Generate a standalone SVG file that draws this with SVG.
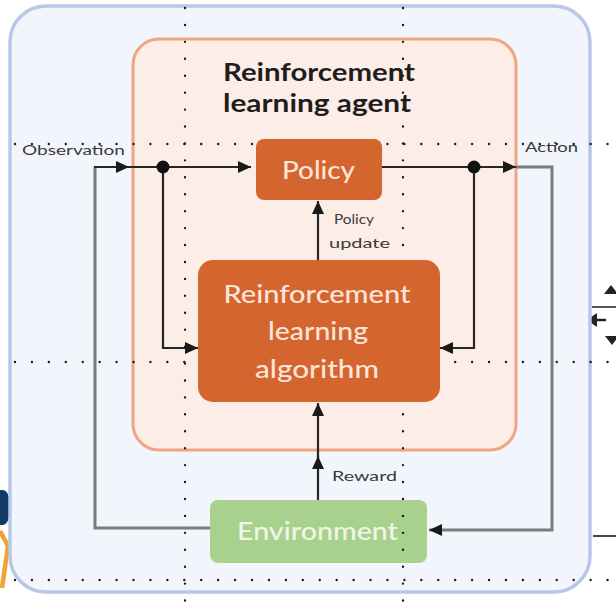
<svg xmlns="http://www.w3.org/2000/svg" width="616" height="610" viewBox="0 0 616 610">
  <style>
    .outer { fill: #f2f5fc; stroke: #b7c7e8; stroke-width: 3.5; }
    .agent { fill: #fdede7; stroke: #eea684; stroke-width: 3; }
    .orange { fill: #d5652f; }
    .green { fill: #a9d18e; }
    .title { font-family: "Lato", "Liberation Sans", sans-serif; font-weight: bold; font-size: 25px; fill: #1e1e1e; text-anchor: middle; }
    .ntext { font-family: "Lato", "Liberation Sans", sans-serif; font-weight: 500; font-size: 25px; fill: #fbe4d8; text-anchor: middle; }
    .etext { font-family: "Lato", "Liberation Sans", sans-serif; font-weight: 500; font-size: 25px; fill: #eef6e8; text-anchor: middle; }
    .label { font-family: "Lato", "Liberation Sans", sans-serif; font-size: 13.5px; fill: #3a3a3a; }
    .dark { fill: none; stroke: #262626; stroke-width: 2.2; }
    .gray { fill: none; stroke: #7c7c7c; stroke-width: 3; }
    .guide { fill: none; stroke: #1c1c1c; stroke-width: 2.4; stroke-linecap: round; stroke-dasharray: 0 16.93; }
  </style>
  <defs>
    <marker id="arrow" markerUnits="userSpaceOnUse" markerWidth="13" markerHeight="12" refX="13" refY="6" orient="auto">
      <path d="M0,0 L13,6 L0,12 z" fill="#1a1a1a"/>
    </marker>
  </defs>

  <!-- partly hidden neighbouring graphics at the left and right edges -->
  <g id="edge-left">
    <path d="M-6,490 H2 Q10,490 10,507 Q10,525 2,525 H-6 z" fill="#123a66"/>
    <path d="M0,531 L8,546 L2,588" fill="none" stroke="#f0a232" stroke-width="4.5"/>
  </g>
  <g id="edge-right">
    <path d="M592,307 H616" stroke="#555" stroke-width="2"/>
    <path d="M604,294 L611,285 L618,294 z" fill="#222"/>
    <path d="M595,320 H606" stroke="#222" stroke-width="2.5"/>
    <path d="M587,320 L597,313 L597,327 z" fill="#222"/>
    <path d="M605,336 L612,345 L619,336 z" fill="#222"/>
    <path d="M593,536 H616" stroke="#444" stroke-width="2"/>
  </g>

  <!-- environment frame -->
  <rect id="frame" class="outer" x="10" y="6" width="580" height="586" rx="36"/>

  <!-- agent container -->
  <g id="agent">
    <rect class="agent" x="133" y="39" width="383" height="411" rx="26"/>
    <text class="title" x="319" y="81" textLength="192" lengthAdjust="spacingAndGlyphs">Reinforcement</text>
    <text class="title" x="317" y="112" textLength="188" lengthAdjust="spacingAndGlyphs">learning agent</text>
  </g>

  <!-- connectors -->
  <g id="connectors">
    <path class="gray" d="M210,528 H95 V167"/>
    <path class="dark" d="M94,167 H129" marker-end="url(#arrow)"/>
    <path class="dark" d="M129,167 H251" marker-end="url(#arrow)"/>
    <path class="dark" d="M163,167 V348 H198" marker-end="url(#arrow)"/>
    <path class="dark" d="M382,167 H516" marker-end="url(#arrow)"/>
    <path class="gray" d="M516,167 H552 V530 H440"/>
    <path class="gray" d="M442,530 H429" marker-end="url(#arrow)"/>
    <path class="dark" d="M474,167 V348 H440" marker-end="url(#arrow)"/>
    <path class="dark" d="M318,260 V201" marker-end="url(#arrow)"/>
    <path class="dark" d="M318,500 V456" marker-end="url(#arrow)"/>
    <path class="dark" d="M318,458 V403" marker-end="url(#arrow)"/>
    <circle cx="163" cy="167" r="6.5" fill="#111"/>
    <circle cx="474" cy="167" r="6.5" fill="#111"/>
    <text class="label" x="22" y="155" textLength="103" lengthAdjust="spacingAndGlyphs">Observation</text>
    <text class="label" x="525" y="152" textLength="53" lengthAdjust="spacingAndGlyphs">Action</text>
    <text class="label" x="334" y="224" textLength="40" lengthAdjust="spacingAndGlyphs">Policy</text>
    <text class="label" x="329" y="248" textLength="61" lengthAdjust="spacingAndGlyphs">update</text>
    <text class="label" x="332" y="481" textLength="65" lengthAdjust="spacingAndGlyphs">Reward</text>
  </g>

  <!-- environment node -->
  <g id="environment">
    <rect class="green" x="210" y="500" width="217" height="63" rx="8"/>
    <text class="etext" x="317.5" y="540" textLength="161" lengthAdjust="spacingAndGlyphs">Environment</text>
  </g>

  <!-- dotted layout guides -->
  <g id="guides">
    <path class="guide" d="M185,8 V610"/>
    <path class="guide" d="M403,8 V610"/>
    <path class="guide" d="M15,144 H616"/>
    <path class="guide" d="M15,362 H616"/>
    <path class="guide" d="M15,580 H616"/>
  </g>

  <!-- policy node -->
  <g id="policy">
    <rect class="orange" x="256" y="139" width="126" height="61" rx="8"/>
    <text class="ntext" x="318.5" y="179" textLength="73" lengthAdjust="spacingAndGlyphs">Policy</text>
  </g>

  <!-- learning algorithm node -->
  <g id="algorithm">
    <rect class="orange" x="198" y="260" width="242" height="142" rx="15"/>
    <text class="ntext" x="317" y="303" textLength="187" lengthAdjust="spacingAndGlyphs">Reinforcement</text>
    <text class="ntext" x="318" y="340" textLength="100" lengthAdjust="spacingAndGlyphs">learning</text>
    <text class="ntext" x="317" y="378" textLength="124" lengthAdjust="spacingAndGlyphs">algorithm</text>
  </g>
</svg>
